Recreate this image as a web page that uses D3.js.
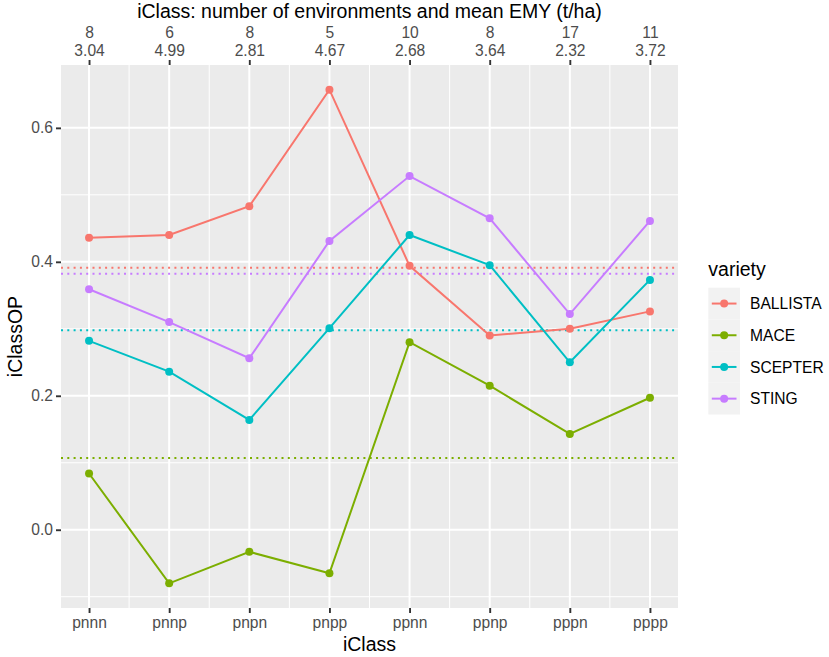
<!DOCTYPE html>
<html>
<head>
<meta charset="utf-8">
<script src="https://cdn.jsdelivr.net/npm/d3@7"></script>
<style>
  body { margin: 0; background: #fff; }
  svg text { font-family: "Liberation Sans", Arial, Helvetica, sans-serif; }
</style>
</head>
<body>
<div id="chart"></div>
<script>
// iClass categories and the secondary (top) axis info
const classes = ["pnnn", "pnnp", "pnpn", "pnpp", "ppnn", "ppnp", "pppn", "pppp"];
const nEnv = [8, 6, 8, 5, 10, 8, 17, 11];
const meanEMY = ["3.04", "4.99", "2.81", "4.67", "2.68", "3.64", "2.32", "3.72"];

// iClassOP per variety
const varieties = ["BALLISTA", "MACE", "SCEPTER", "STING"];
const ballista = [0.436, 0.440, 0.483, 0.657, 0.394, 0.290, 0.300, 0.326];
const mace = [0.084, -0.080, -0.033, -0.065, 0.280, 0.215, 0.143, 0.197];
const scepter = [0.282, 0.236, 0.164, 0.301, 0.440, 0.395, 0.250, 0.373];
const sting = [0.359, 0.310, 0.256, 0.431, 0.528, 0.465, 0.322, 0.461];
// overall mean per variety (dotted lines)
const varietyMeans = [0.391, 0.107, 0.298, 0.382];

const yTicks = [0.0, 0.2, 0.4, 0.6];
const yMinor = [-0.1, 0.1, 0.3, 0.5];

const colors = ["#F8766D", "#7CAE00", "#00BFC4", "#C77CFF"];
const seriesValues = [ballista, mace, scepter, sting];

const width = 829, height = 657;
const panel = { left: 61, right: 678, top: 65, bottom: 608 };

const svg = d3.select("#chart").append("svg")
    .attr("width", width)
    .attr("height", height);

// continuous x (1..n) with ggplot-like 5% expansion
const xIdx = classes.map((d, i) => i + 1);
const xPad = (xIdx.length - 1) * 0.05;
const x = d3.scaleLinear()
    .domain([1 - xPad, xIdx.length + xPad])
    .range([panel.left, panel.right]);

const allVals = seriesValues.flat();
const [yMin, yMax] = d3.extent(allVals);
const yPad = (yMax - yMin) * 0.05;
const y = d3.scaleLinear()
    .domain([yMin - yPad, yMax + yPad])
    .range([panel.bottom, panel.top]);

// panel background
svg.append("rect")
    .attr("x", panel.left)
    .attr("y", panel.top)
    .attr("width", panel.right - panel.left)
    .attr("height", panel.bottom - panel.top)
    .attr("fill", "#EBEBEB");

const grid = svg.append("g").attr("stroke", "#fff").attr("fill", "none");
// minor grid
grid.selectAll("line.ymin").data(yMinor).join("line")
    .attr("class", "ymin")
    .attr("x1", panel.left).attr("x2", panel.right)
    .attr("y1", d => y(d)).attr("y2", d => y(d))
    .attr("stroke-width", 1);
grid.selectAll("line.xmin").data(xIdx.slice(0, -1).map(d => d + 0.5)).join("line")
    .attr("class", "xmin")
    .attr("y1", panel.top).attr("y2", panel.bottom)
    .attr("x1", d => x(d)).attr("x2", d => x(d))
    .attr("stroke-width", 1);
// major grid
grid.selectAll("line.ymaj").data(yTicks).join("line")
    .attr("class", "ymaj")
    .attr("x1", panel.left).attr("x2", panel.right)
    .attr("y1", d => y(d)).attr("y2", d => y(d))
    .attr("stroke-width", 2);
grid.selectAll("line.xmaj").data(xIdx).join("line")
    .attr("class", "xmaj")
    .attr("y1", panel.top).attr("y2", panel.bottom)
    .attr("x1", d => x(d)).attr("x2", d => x(d))
    .attr("stroke-width", 2);

// dotted variety means
svg.append("g").selectAll("line").data(varietyMeans).join("line")
    .attr("x1", panel.left).attr("x2", panel.right)
    .attr("y1", d => y(d)).attr("y2", d => y(d))
    .attr("stroke", (d, i) => colors[i])
    .attr("stroke-width", 2)
    .attr("stroke-dasharray", "2 4.3");

// lines
const line = d3.line().x((d, i) => x(i + 1)).y(d => y(d));
svg.append("g").selectAll("path").data(seriesValues).join("path")
    .attr("d", line)
    .attr("fill", "none")
    .attr("stroke", (d, i) => colors[i])
    .attr("stroke-width", 2);

// points
seriesValues.forEach((vals, k) => {
    svg.append("g").selectAll("circle").data(vals).join("circle")
        .attr("cx", (d, i) => x(i + 1))
        .attr("cy", d => y(d))
        .attr("r", 4)
        .attr("fill", colors[k]);
});

// axes
function styleAxis(g) {
    g.select(".domain").remove();
    g.selectAll(".tick line").attr("stroke", "#333333").attr("stroke-width", 1.9);
    g.selectAll(".tick text").attr("fill", "#4D4D4D").style("font-size", "15.6px");
}

svg.append("g")
    .attr("transform", `translate(${panel.left},0)`)
    .call(d3.axisLeft(y).tickValues(yTicks).tickFormat(d3.format(".1f")).tickSize(5).tickPadding(3))
    .call(styleAxis);

svg.append("g")
    .attr("transform", `translate(0,${panel.bottom})`)
    .call(d3.axisBottom(x).tickValues(xIdx).tickFormat(d => classes[d - 1]).tickSize(5).tickPadding(4))
    .call(styleAxis);

const topAxis = svg.append("g")
    .attr("transform", `translate(0,${panel.top})`)
    .call(d3.axisTop(x).tickValues(xIdx).tickFormat("").tickSize(5))
    .call(styleAxis);
topAxis.selectAll(".tick text").remove();
topAxis.selectAll(".tick").append("text")
    .attr("text-anchor", "middle")
    .attr("fill", "#4D4D4D")
    .style("font-size", "15.6px")
    .each(function(d) {
        const t = d3.select(this);
        t.append("tspan").attr("x", 0).attr("y", -26.8).text(nEnv[d - 1]);
        t.append("tspan").attr("x", 0).attr("y", -9).text(meanEMY[d - 1]);
    });

// titles
const cx = (panel.left + panel.right) / 2;
svg.append("text")
    .attr("x", cx).attr("y", 18)
    .attr("text-anchor", "middle")
    .style("font-size", "19.5px")
    .text("iClass: number of environments and mean EMY (t/ha)");
svg.append("text")
    .attr("x", cx).attr("y", 650.5)
    .attr("text-anchor", "middle")
    .style("font-size", "19.5px")
    .text("iClass");
svg.append("text")
    .attr("transform", `translate(21.5,${(panel.top + panel.bottom) / 2}) rotate(-90)`)
    .attr("text-anchor", "middle")
    .style("font-size", "19.5px")
    .text("iClassOP");

// legend
const legend = svg.append("g").attr("transform", "translate(708.3,0)");
legend.append("text")
    .attr("x", 0).attr("y", 276)
    .style("font-size", "19.5px")
    .text("variety");
const keyH = 31.7, key0 = 287.7, keyW = 31.7;
const item = legend.selectAll("g.item").data(varieties).join("g")
    .attr("class", "item")
    .attr("transform", (d, i) => `translate(0,${key0 + i * keyH})`);
item.append("rect")
    .attr("width", keyW).attr("height", keyH)
    .attr("fill", "#F2F2F2");
item.append("line")
    .attr("x1", 3.5).attr("x2", keyW - 3.5)
    .attr("y1", keyH / 2).attr("y2", keyH / 2)
    .attr("stroke", (d, i) => colors[i])
    .attr("stroke-width", 2);
item.append("circle")
    .attr("cx", keyW / 2).attr("cy", keyH / 2).attr("r", 4)
    .attr("fill", (d, i) => colors[i]);
item.append("text")
    .attr("x", 41.7).attr("y", keyH / 2)
    .attr("dy", "0.36em")
    .style("font-size", "15.6px")
    .attr("fill", "#000")
    .text(d => d);
</script>
</body>
</html>
